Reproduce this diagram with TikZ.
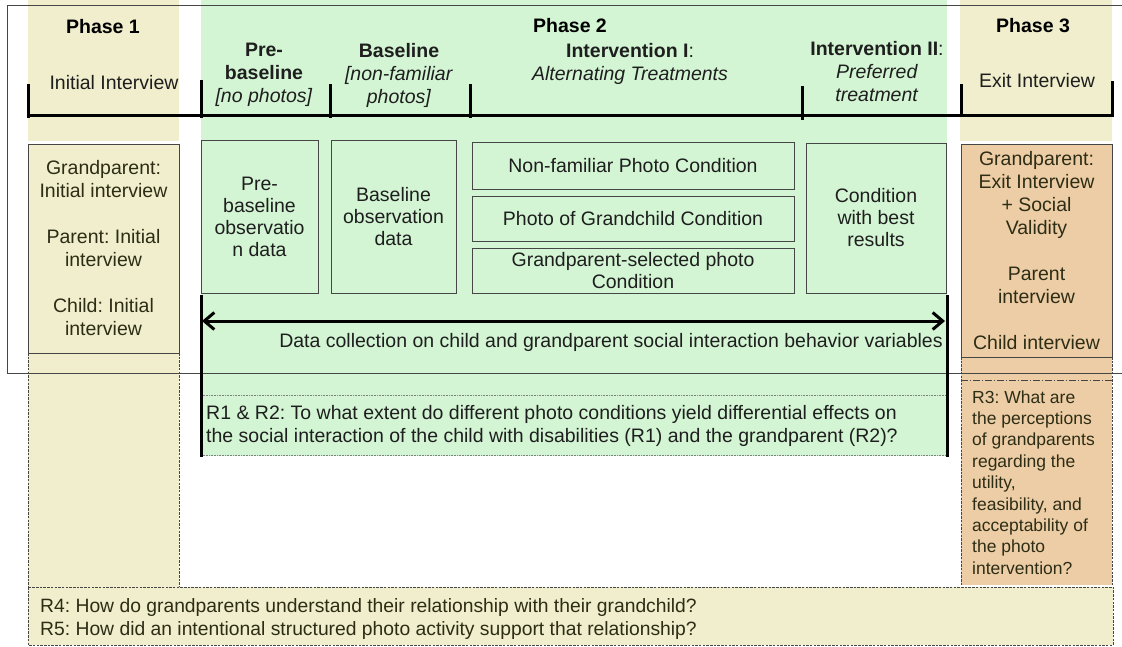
\documentclass[tikz,border=0pt]{standalone}
\usepackage{fontspec}
\setmainfont{Liberation Sans}
\usetikzlibrary{arrows.meta}
\frenchspacing
\definecolor{ygl}{RGB}{240,238,204}
\definecolor{grn}{RGB}{211,245,212}
\definecolor{org}{RGB}{237,205,165}
\definecolor{txt}{RGB}{30,30,30}
\definecolor{olv}{RGB}{45,45,22}
\definecolor{frm}{RGB}{70,70,70}
\begin{document}
\begin{tikzpicture}[x=1pt,y=-1pt,
  every node/.style={font=\fontsize{19.5}{23}\selectfont, inner sep=0pt, align=center, text=txt},
  hdr/.style={font=\fontsize{19.5}{23}\selectfont\bfseries, text=black},
  gbox/.style={draw=frm, line width=0.9pt, fill=grn, font=\fontsize{19.5}{22}\selectfont},
  ybox/.style={draw=frm, line width=0.9pt, fill=ygl, text=olv},
  obox/.style={draw=frm, line width=0.9pt, fill=org, text=olv},
  dashbox/.style={draw=frm, line width=0.7pt, dash pattern=on 2.5pt off 1.2pt},
  tl/.style={line width=3pt, draw=black},
  dotl/.style={draw=gray, line width=0.8pt, dash pattern=on 0.8pt off 0.8pt},
  >={Straight Barb[length=10pt,width=17pt]}
]
\useasboundingbox (0,0) rectangle (1122,646);
\fill[white] (0,0) rectangle (1122,646);
% background columns
\fill[ygl] (28,0) rectangle (179,141);
\fill[grn] (201,0) rectangle (947,456);
\fill[ygl] (960,0) rectangle (1112,141);
% lower dashed areas
\path[fill=ygl] (28,353) rectangle (179,587);
\draw[dashbox] (28,353) -- (28,587) (179,353) -- (179,587);
\path[fill=org] (961,357) rectangle (1112,585);
\draw[dashbox] (961,357) -- (961,585) (1112,357) -- (1112,585);
\draw[frm, line width=0.8pt, dash pattern=on 7pt off 2pt on 1pt off 2pt] (961,380) -- (1112,380);
% R4/R5 box
\draw[dashbox, fill=ygl] (28,587) rectangle (1113,645);
% outer frame
\draw[frm, line width=0.8pt] (1122,5) -- (7,5) -- (7,373) -- (1122,373);
% dotted R1&R2 box lines
\draw[dotl] (201,395) -- (947,395);
\draw[dotl] (201,455) -- (947,455);

% boxes
\node[ybox, minimum width=151pt, minimum height=209pt] (p1box) at (103.5,248.5)
  {Grandparent:\\Initial interview\\[23pt]Parent: Initial\\interview\\[23pt]Child: Initial\\interview};
\node[obox, minimum width=151pt, minimum height=213pt] (p3box) at (1036.5,250.5)
  {Grandparent:\\Exit Interview\\+ Social\\Validity\\[23pt]Parent\\interview\\[23pt]Child interview};
\node[gbox, minimum width=117pt, minimum height=153pt] (pre) at (259.5,216.5)
  {Pre-\\baseline\\observatio\\n data};
\node[gbox, minimum width=125pt, minimum height=153pt] (base) at (393.5,216.5)
  {Baseline\\observation\\data};
\node[gbox, minimum width=322pt, minimum height=47pt] (nonfam) at (633,165.5)
  {Non-familiar Photo Condition};
\node[gbox, minimum width=322pt, minimum height=45pt] (grandc) at (633,218.5)
  {Photo of Grandchild Condition};
\node[gbox, minimum width=322pt, minimum height=45pt] (gpsel) at (633,270.5)
  {Grandparent-selected photo\\Condition};
\node[gbox, minimum width=140pt, minimum height=150pt] (best) at (876,218)
  {Condition\\with best\\results};

% timeline
\coordinate (t0) at (28,115);
\coordinate (t6) at (1112,115);
\draw[tl] (t0) -- (t6);
\draw[tl] (28,84) -- (28,118);
\draw[tl] (201,80) -- (201,118);
\draw[tl] (330,84) -- (330,118);
\draw[tl] (470,84) -- (470,118);
\draw[tl] (802,86) -- (802,120);
\draw[tl] (961,84) -- (961,117);
\draw[tl] (1112,81) -- (1112,117);

% data collection arrow and verticals
\draw[tl] (201,295) -- (201,457);
\draw[tl] (947,295) -- (947,457);
\coordinate (dl) at (202,321);
\coordinate (dr) at (945,321);
\draw[tl, <->] (dl) -- (dr);

% header texts
\node[hdr] (ph1) at (103,27) {Phase 1};
\node (ii) at (114,83) {Initial Interview};
\node (prehd) at (264,75) {\textbf{Pre-}\\\textbf{baseline}\\\textit{[no photos]}};
\node (basehd) at (399,75) {\textbf{Baseline}\\\textit{[non-familiar}\\\textit{photos]}};
\node[hdr] (ph2) at (570,26) {Phase 2};
\node (int1) at (630,63.5) {\textbf{Intervention I}:\\\textit{Alternating Treatments}};
\node (int2) at (877,72) {\textbf{Intervention II}:\\\textit{Preferred}\\\textit{treatment}};
\node[hdr] (ph3) at (1033,26) {Phase 3};
\node (ei) at (1037,81) {Exit Interview};

% other texts
\node (dc) at (611,342) {Data collection on child and grandparent social interaction behavior variables};
\node[anchor=west, align=left] (r12) at (206,425.5)
  {R1 \& R2: To what extent do different photo conditions yield differential effects on\\the social interaction of the child with disabilities (R1) and the grandparent (R2)?};
\node[anchor=west, align=left, text=olv, font=\fontsize{17.5}{21.4}\selectfont] (r3) at (972,482.5)
  {R3: What are\\the perceptions\\of grandparents\\regarding the\\utility,\\feasibility, and\\acceptability of\\the photo\\intervention?};
\node[anchor=west, align=left, text=olv, font=\fontsize{19.3}{23}\selectfont] (r45) at (40,618.5)
  {R4: How do grandparents understand their relationship with their grandchild?\\R5: How did an intentional structured photo activity support that relationship?};
\end{tikzpicture}
\end{document}
